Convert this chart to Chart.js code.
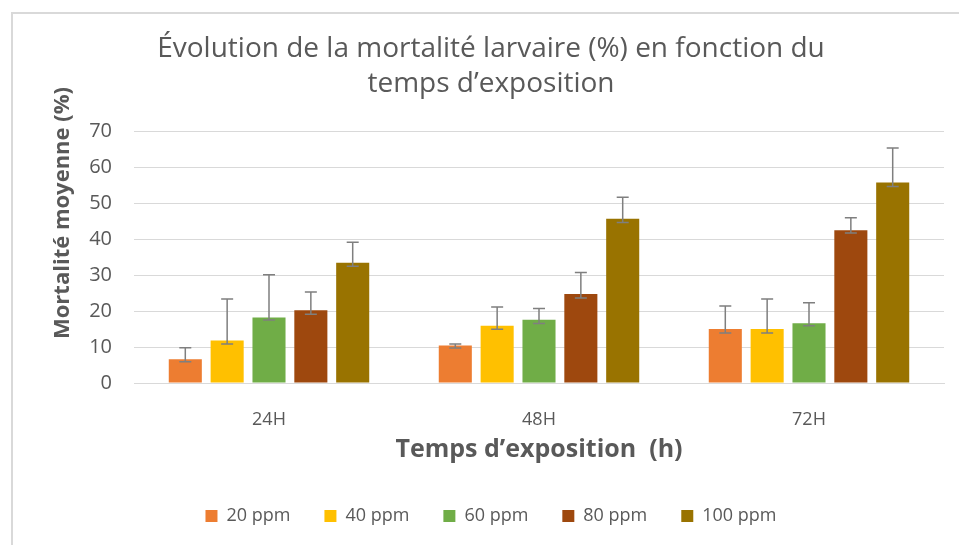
<!DOCTYPE html>
<html>
<head>
<meta charset="utf-8">
<script src="https://cdn.jsdelivr.net/npm/chart.js@4/dist/chart.umd.min.js"></script>
<style>
  html, body { margin: 0; padding: 0; background: #fff; overflow: hidden; }
  #wrap { position: relative; width: 959px; height: 545px; overflow: hidden; }
  #frame { position: absolute; left: 11px; top: 12px; width: 2000px; height: 2000px;
           border: 2px solid #d9d9d9; box-sizing: border-box; }
  canvas { position: absolute; left: 0; top: 0; }
</style>
</head>
<body>
<div id="wrap">
  <div id="frame"></div>
  <canvas id="chart" width="959" height="545"></canvas>
</div>
<script>
// Categories and series
const categories = ['24H', '48H', '72H'];
const seriesNames = ['20 ppm', '40 ppm', '60 ppm', '80 ppm', '100 ppm'];
const seriesColors = ['#ED7D31', '#FFC000', '#70AD47', '#9E480E', '#997300'];

// Mean mortality (%)
const ppm20 = [6.6, 10.4, 15.0];
const ppm40 = [11.8, 15.9, 15.0];
const ppm60 = [18.2, 17.6, 16.6];
const ppm80 = [20.2, 24.7, 42.4];
const ppm100 = [33.4, 45.6, 55.7];

// Error bar ends (top and bottom cap values)
const top20 = [9.8, 10.8, 21.4];
const bot20 = [5.9, 9.7, 13.9];
const top40 = [23.3, 21.1, 23.3];
const bot40 = [10.8, 14.9, 13.9];
const top60 = [30.1, 20.7, 22.3];
const bot60 = [17.5, 16.5, 15.9];
const top80 = [25.3, 30.7, 45.9];
const bot80 = [19.1, 23.6, 41.7];
const top100 = [39.1, 51.6, 65.3];
const bot100 = [32.4, 44.6, 54.6];

// Y axis ticks
const yMin = 0;
const yMax = 70;
const yStep = 10;

const seriesValues = [ppm20, ppm40, ppm60, ppm80, ppm100];
const errTops = [top20, top40, top60, top80, top100];
const errBottoms = [bot20, bot40, bot60, bot80, bot100];

const textColor = '#595959';
const fontFamily = '"Open Sans", Lato, sans-serif';

// Draws the vertical error bars with caps
const errorBars = {
    id: 'errorBars',
    afterDatasetsDraw(chart) {
        const ctx = chart.ctx;
        const yScale = chart.scales.y;
        ctx.save();
        ctx.strokeStyle = '#7f7f7f';
        ctx.lineWidth = 1.5;
        chart.data.datasets.forEach((ds, di) => {
            const meta = chart.getDatasetMeta(di);
            meta.data.forEach((bar, i) => {
                const x = bar.x;
                const yTop = yScale.getPixelForValue(errTops[di][i]);
                const yBot = yScale.getPixelForValue(errBottoms[di][i]);
                const cap = 6;
                ctx.beginPath();
                ctx.moveTo(x, yTop);
                ctx.lineTo(x, yBot);
                ctx.moveTo(x - cap, yTop);
                ctx.lineTo(x + cap, yTop);
                ctx.moveTo(x - cap, yBot);
                ctx.lineTo(x + cap, yBot);
                ctx.stroke();
            });
        });
        ctx.restore();
    }
};

const datasets = seriesNames.map((name, i) => ({
    label: name,
    data: seriesValues[i],
    backgroundColor: seriesColors[i],
    borderWidth: 0,
    barPercentage: 0.79,
    categoryPercentage: 0.775
}));

new Chart(document.getElementById('chart'), {
    type: 'bar',
    data: { labels: categories, datasets: datasets },
    plugins: [errorBars],
    options: {
        responsive: false,
        animation: false,
        layout: { padding: { left: 23, right: 0, top: 0, bottom: 10 } },
        plugins: {
            title: {
                display: true,
                text: ['Évolution de la mortalité larvaire (%) en fonction du', 'temps d\u2019exposition'],
                color: textColor,
                font: { family: fontFamily, size: 28, weight: 'normal', lineHeight: 35 / 28 },
                padding: { top: 32, bottom: 29 }
            },
            legend: {
                position: 'bottom',
                labels: {
                    color: textColor,
                    font: { family: fontFamily, size: 18 },
                    boxWidth: 12,
                    boxHeight: 12,
                    padding: 34
                }
            },
            tooltip: { enabled: false }
        },
        scales: {
            x: {
                grid: { display: false },
                border: { display: true, color: '#d9d9d9', width: 1 },
                ticks: { color: textColor, font: { family: fontFamily, size: 18 }, padding: 18 },
                title: {
                    display: true,
                    text: 'Temps d\u2019exposition  (h)',
                    color: textColor,
                    font: { family: fontFamily, size: 25, weight: 'bold', lineHeight: 1.2 },
                    padding: { top: 0, bottom: 8 }
                },
                afterFit(scale) { scale.height = 90; }
            },
            y: {
                min: yMin,
                max: yMax,
                ticks: { stepSize: yStep, color: textColor, font: { family: fontFamily, size: 20 }, padding: 22 },
                grid: { color: '#d9d9d9', lineWidth: 1, drawTicks: false },
                border: { display: false },
                title: {
                    display: true,
                    // leading em spaces lift the rotated title as in the original
                    text: '\u2003\u2003\u2003\u2003Mortalité moyenne (%)',
                    color: textColor,
                    font: { family: fontFamily, size: 22, weight: 'bold', lineHeight: 1.2 },
                    padding: { top: 27, bottom: 0 }
                },
                afterFit(scale) { scale.width = 111; }
            },
            yR: {
                position: 'right',
                display: true,
                grid: { display: false },
                border: { display: false },
                ticks: { display: false },
                afterFit(scale) { scale.width = 15; }
            }
        }
    }
});
</script>
</body>
</html>
